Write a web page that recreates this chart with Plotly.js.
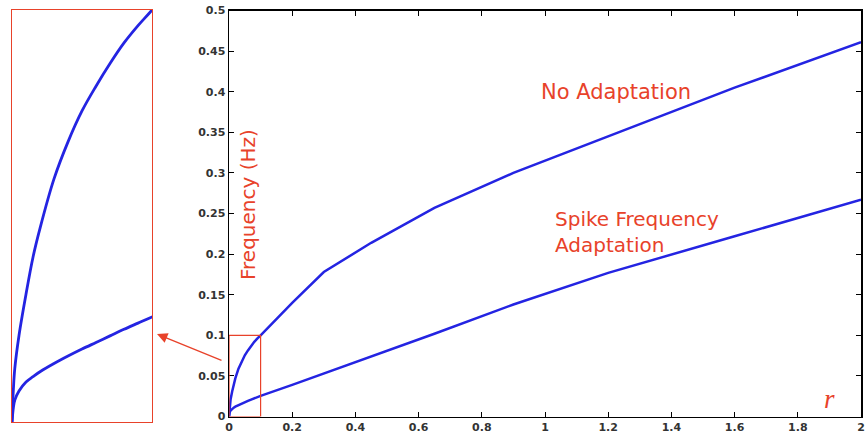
<!DOCTYPE html>
<html>
<head>
<meta charset="utf-8">
<script src="https://cdn.plot.ly/plotly-3.0.1.min.js"></script>
<style>html,body{margin:0;padding:0;background:#fff;}#chart{width:865px;height:434px;}</style>
</head>
<body>
<div id="chart"></div>
<script>
// Input rate r
const rValues = [0, 0.001, 0.002, 0.005, 0.01, 0.015, 0.02, 0.03, 0.04, 0.05, 0.06, 0.07, 0.08, 0.09, 0.1, 0.2, 0.3, 0.45, 0.65, 0.9, 1.2, 1.6, 2.0];
// Output frequency without adaptation
const noAdaptation = [0, 0.008, 0.013, 0.021, 0.031, 0.040, 0.047, 0.059, 0.068, 0.0755, 0.0815, 0.087, 0.092, 0.0962, 0.100, 0.140, 0.178, 0.214, 0.257, 0.300, 0.345, 0.405, 0.461];
// Output frequency with spike frequency adaptation
const spikeFreqAdaptation = [0, 0.0035, 0.0053, 0.0075, 0.0097, 0.011, 0.0122, 0.0142, 0.016, 0.0177, 0.0193, 0.0209, 0.0225, 0.024, 0.0255, 0.039, 0.053, 0.074, 0.102, 0.138, 0.177, 0.222, 0.267];
const xTicks = [0, 0.2, 0.4, 0.6, 0.8, 1, 1.2, 1.4, 1.6, 1.8, 2];
const xTickText = ['0', '0.2', '0.4', '0.6', '0.8', '1', '1.2', '1.4', '1.6', '1.8', '2'];
const yTicks = [0, 0.05, 0.1, 0.15, 0.2, 0.25, 0.3, 0.35, 0.4, 0.45, 0.5];
const yTickText = ['0', '0.05', '0.1', '0.15', '0.2', '0.25', '0.3', '0.35', '0.4', '0.45', '0.5'];
const zoomRange = [0, 0.1];

const blue = 'rgb(36,36,226)';
const red = 'rgb(232,66,42)';
const tickFont = {family: 'DejaVu Sans', size: 11, color: '#333', weight: 'bold'};

const traces = [
  {x: rValues, y: noAdaptation, xaxis: 'x', yaxis: 'y', mode: 'lines', line: {color: blue, width: 2.5}},
  {x: rValues, y: spikeFreqAdaptation, xaxis: 'x', yaxis: 'y', mode: 'lines', line: {color: blue, width: 2.5}},
  {x: rValues, y: noAdaptation, xaxis: 'x2', yaxis: 'y2', mode: 'lines', line: {color: blue, width: 2.8, shape: 'spline', smoothing: 1}},
  {x: rValues, y: spikeFreqAdaptation, xaxis: 'x2', yaxis: 'y2', mode: 'lines', line: {color: blue, width: 2.8, shape: 'spline', smoothing: 1}}
];

const layout = {
  width: 865, height: 434,
  margin: {l: 0, r: 0, t: 0, b: 0},
  paper_bgcolor: '#fff', plot_bgcolor: '#fff',
  showlegend: false,
  xaxis: {
    domain: [229/865, 861/865], range: [0, 2], tickvals: xTicks, ticktext: xTickText,
    ticks: 'inside', ticklen: 5, tickcolor: '#000', tickwidth: 1,
    showline: true, linecolor: '#000', linewidth: 1.5, mirror: 'ticks',
    showgrid: false, zeroline: false, tickfont: tickFont, automargin: false, fixedrange: true
  },
  yaxis: {
    domain: [17.4/434, 423.5/434], range: [0, 0.5], tickvals: yTicks, ticktext: yTickText,
    ticks: 'inside', ticklen: 5, tickcolor: '#000', tickwidth: 1,
    showline: true, linecolor: '#000', linewidth: 1.5, mirror: 'ticks',
    showgrid: false, zeroline: false, tickfont: tickFont, automargin: false, fixedrange: true
  },
  xaxis2: {
    domain: [12/865, 152/865], range: zoomRange, anchor: 'y2',
    showticklabels: false, ticks: '', showgrid: false, zeroline: false,
    showline: true, linecolor: red, linewidth: 1.2, mirror: true, fixedrange: true
  },
  yaxis2: {
    domain: [12/434, 424/434], range: zoomRange, anchor: 'x2',
    showticklabels: false, ticks: '', showgrid: false, zeroline: false,
    showline: true, linecolor: red, linewidth: 1.2, mirror: true, fixedrange: true
  },
  shapes: [
    {type: 'rect', xref: 'x', yref: 'y', x0: zoomRange[0], x1: zoomRange[1], y0: zoomRange[0], y1: zoomRange[1],
     line: {color: red, width: 1.2}}
  ],
  annotations: [
    {xref: 'paper', yref: 'paper', x: 539/865, y: (434-92)/434, xanchor: 'left', yanchor: 'middle',
     text: 'No Adaptation', showarrow: false, font: {family: 'DejaVu Sans', size: 21, color: red}},
    {xref: 'paper', yref: 'paper', x: 553/865, y: (434-232)/434, xanchor: 'left', yanchor: 'middle', align: 'left',
     text: 'Spike Frequency<br>Adaptation', showarrow: false, font: {family: 'DejaVu Sans', size: 20, color: red}},
    {xref: 'paper', yref: 'paper', x: 248/865, y: (434-205)/434, xanchor: 'center', yanchor: 'middle',
     text: 'Frequency (Hz)', textangle: -90, showarrow: false, font: {family: 'DejaVu Sans', size: 20, color: red}},
    {xref: 'paper', yref: 'paper', x: 829/865, y: (434-399)/434, xanchor: 'center', yanchor: 'middle',
     text: '<i>r</i>', showarrow: false, font: {family: 'Liberation Serif', size: 27, color: red}},
    {xref: 'paper', yref: 'paper', x: 157/865, y: (434-334)/434, ax: 66, ay: 27, axref: 'pixel', ayref: 'pixel',
     text: '', showarrow: true, arrowhead: 2, arrowsize: 1.6, arrowwidth: 1.3, arrowcolor: red, standoff: 0}
  ]
};

Plotly.newPlot('chart', traces, layout, {staticPlot: true, displayModeBar: false});
</script>
</body>
</html>
